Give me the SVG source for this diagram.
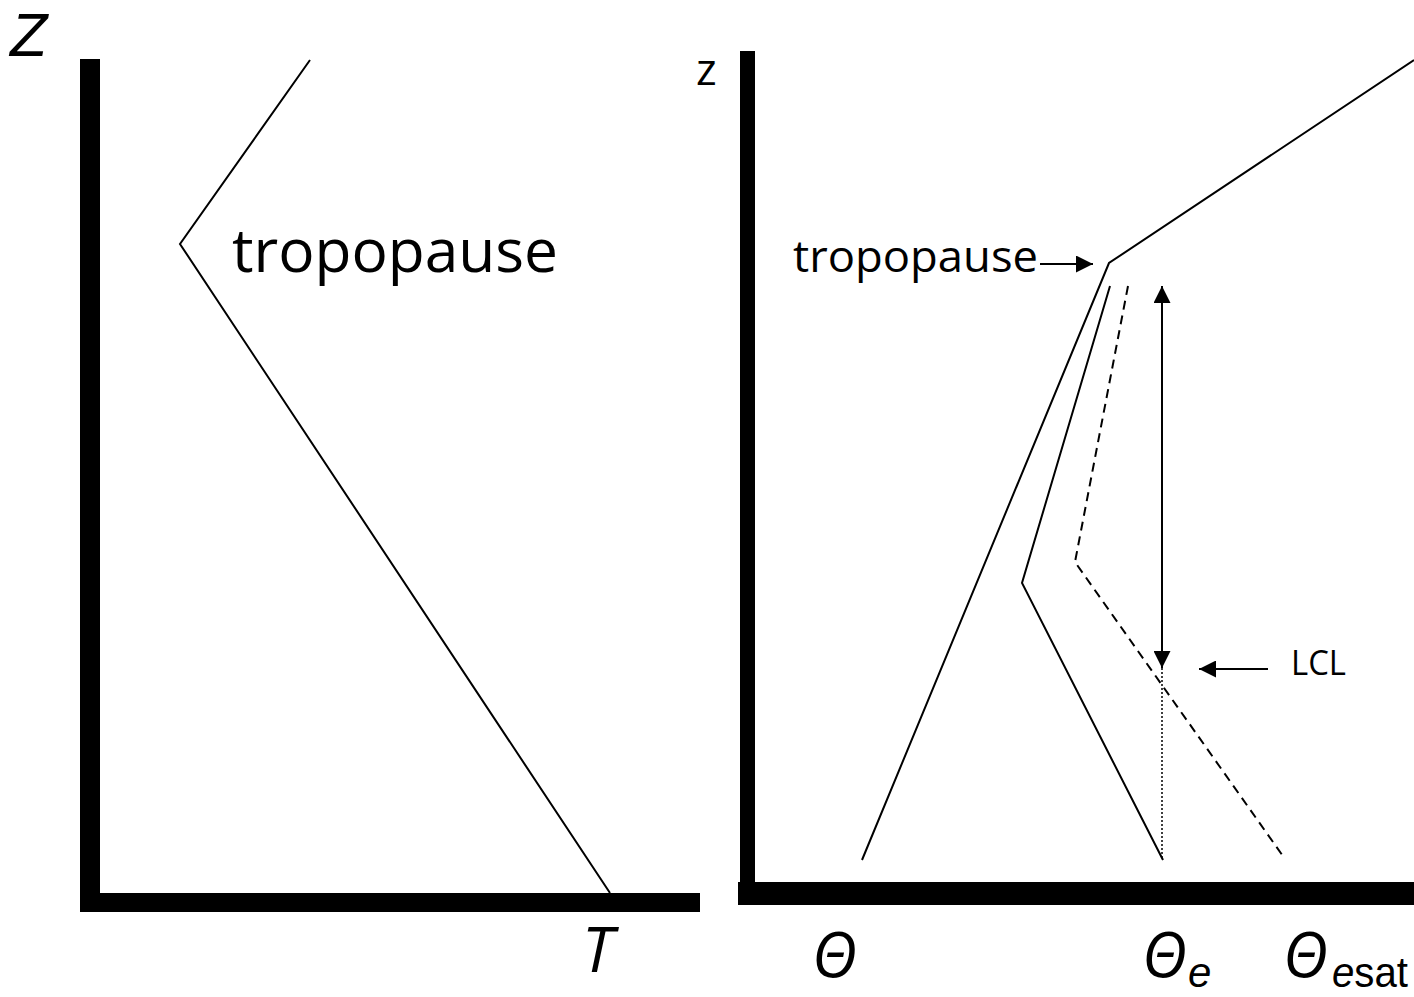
<svg xmlns="http://www.w3.org/2000/svg" width="1414" height="997" viewBox="0 0 1414 997">
<style>
.t{font-family:"Open Sans","Noto Sans","DejaVu Sans",sans-serif;fill:#000}
.s{font-family:"Liberation Sans","Open Sans",sans-serif;fill:#000}
.i{font-style:italic}
.ln{fill:none;stroke:#000;stroke-width:2;stroke-linejoin:miter}
.dash{stroke-dasharray:9,6}
.dot{stroke-dasharray:2,2;stroke-width:1.5}
.bar{fill:#000}
</style>
<defs>
<marker id="ah" viewBox="0 0 10 10" refX="10" refY="5" markerWidth="19" markerHeight="17" markerUnits="userSpaceOnUse" orient="auto-start-reverse">
<path d="M0,0 L10,5 L0,10 Z" fill="#000"/>
</marker>
</defs>
<rect width="1414" height="997" fill="#fff"/>
<g id="left-axes">
<rect class="bar" x="80" y="59" width="20" height="853"/>
<rect class="bar" x="80" y="893" width="620" height="19"/>
<text class="s i" x="10" y="56" font-size="61">Z</text>
<text class="t i" x="582" y="972" font-size="63">T</text>
</g>
<g id="left-profile">
<polyline class="ln" points="310,60 180,244 610,893"/>
<text class="t" x="232" y="272" font-size="60" textLength="326" lengthAdjust="spacingAndGlyphs">tropopause</text>
</g>
<g id="right-axes">
<rect class="bar" x="740" y="51" width="15" height="854"/>
<rect class="bar" x="738" y="882" width="676" height="23"/>
<text class="t" x="696" y="85" font-size="44">z</text>
<text class="t i" x="812" y="977" font-size="62">Θ</text>
<text class="t i" x="1142" y="977" font-size="62">Θ</text>
<text class="s i" x="1188" y="987" font-size="42">e</text>
<text class="t i" x="1283" y="977" font-size="62">Θ</text>
<text class="s" x="1332" y="987" font-size="42" textLength="76" lengthAdjust="spacingAndGlyphs"><tspan class="i">e</tspan>sat</text>
</g>
<g id="theta-profile">
<polyline class="ln" points="862,860 1109,263 1414,60"/>
</g>
<g id="theta-e-profile">
<polyline class="ln" points="1110,286 1022,583 1163,860"/>
</g>
<g id="theta-esat-profile">
<polyline class="ln dash" points="1128,286 1075,562 1285,859"/>
</g>
<g id="labels">
<text class="t" x="793" y="272" font-size="44" textLength="245" lengthAdjust="spacingAndGlyphs">tropopause</text>
<text class="t" x="1291" y="675" font-size="35" textLength="55" lengthAdjust="spacingAndGlyphs">LCL</text>
</g>
<g id="connectors">
<line class="ln" x1="1040" y1="264" x2="1093" y2="264" marker-end="url(#ah)"/>
<line class="ln" x1="1162" y1="286" x2="1162" y2="668" marker-start="url(#ah)" marker-end="url(#ah)"/>
<line class="ln dot" x1="1162" y1="668" x2="1162" y2="860"/>
<line class="ln" x1="1268" y1="669" x2="1199" y2="669" marker-end="url(#ah)"/>
</g>
</svg>
